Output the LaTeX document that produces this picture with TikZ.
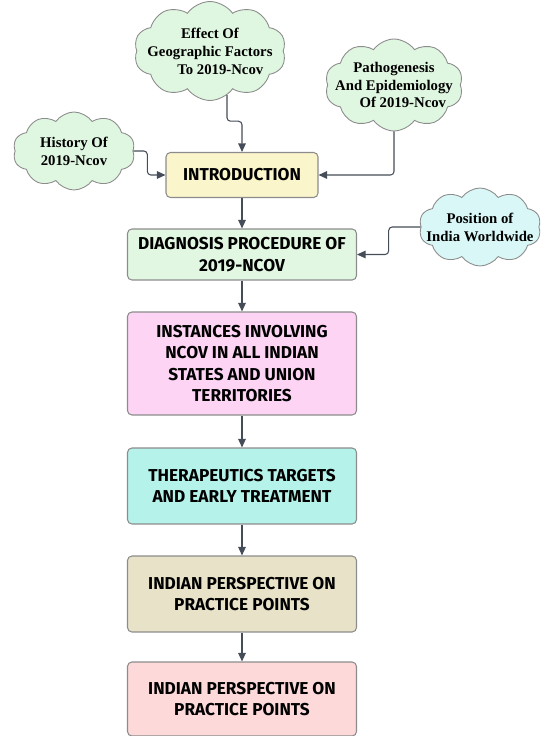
\documentclass[tikz,border=0pt]{standalone}
\usepackage{fontspec}
\setmainfont{Liberation Serif}
\newfontfamily\boxfont{Fira Sans}
\usetikzlibrary{shapes.symbols,arrows.meta}

\definecolor{cloudgreen}{HTML}{DFF6E0}
\definecolor{cloudcyan}{HTML}{D8F7F6}
\definecolor{introfill}{HTML}{FAF5CB}
\definecolor{diagfill}{HTML}{E2F7E2}
\definecolor{instfill}{HTML}{FDD4F4}
\definecolor{therfill}{HTML}{B5F2EA}
\definecolor{persfill}{HTML}{E8E2C8}
\definecolor{pointfill}{HTML}{FDD9DA}
\definecolor{edgegrey}{HTML}{8C8C8C}
\definecolor{linkgrey}{HTML}{454D58}

\tikzset{
  bubble/.style={cloud, cloud puffs=10, cloud puff arc=110, cloud ignores aspect,
    draw=edgegrey, line width=0.5pt, inner sep=0pt},
  bubbletext/.style={align=center, inner sep=0pt, font=\fontsize{8.4}{10.2}\selectfont\bfseries},
  topic/.style={draw=edgegrey, rounded corners=2.5pt, line width=0.6pt, minimum width=4.58cm,
    align=center, font=\boxfont\fontsize{9.8}{12.3}\selectfont\bfseries},
  link/.style={draw=linkgrey, line width=0.6pt, rounded corners=2pt,
    -{Triangle[length=1.7mm,width=1.5mm]}}
}

\begin{document}
\begin{tikzpicture}[x=0.02cm,y=-0.02cm]
    \useasboundingbox (0,0) rectangle (541,736);

    % Draw the clouds around the introduction
    \node[bubble, fill=cloudgreen, minimum width=3.04cm, minimum height=1.98cm] (effect) at (210,51) {};
    \node[bubbletext] (effecttext) at (effect) {Effect Of\\Geographic Factors\\\hspace*{1.4em}To 2019-Ncov};
    \node[bubble, fill=cloudgreen, minimum width=2.76cm, minimum height=1.84cm] (patho) at (394,85) {};
    \node[bubbletext] (pathotext) at (patho) {Pathogenesis\\And Epidemiology\\\hspace*{1.2em}Of 2019-Ncov};
    \node[bubble, fill=cloudgreen, minimum width=2.44cm, minimum height=1.56cm] (history) at (74,151) {};
    \node[bubbletext] (historytext) at (history) {History Of\\2019-Ncov};
    \node[bubble, fill=cloudcyan, minimum width=2.44cm, minimum height=1.56cm] (position) at (480,227) {};
    \node[bubbletext] (positiontext) at (position) {Position of\\India Worldwide};

    % Draw the chain of boxes
    \node[topic, fill=introfill, minimum width=3.04cm, minimum height=0.9cm] (intro) at (242,175) {INTRODUCTION};
    \node[topic, fill=diagfill, minimum height=1.02cm] (diag) at (242,254.5)
        {DIAGNOSIS PROCEDURE OF\\2019-NCOV};
    \node[topic, fill=instfill, minimum height=2.06cm] (inst) at (242,363.5)
        {INSTANCES INVOLVING\\NCOV IN ALL INDIAN\\STATES AND UNION\\TERRITORIES};
    \node[topic, fill=therfill, minimum height=1.52cm] (ther) at (242,486)
        {THERAPEUTICS TARGETS\\AND EARLY TREATMENT};
    \node[topic, fill=persfill, minimum height=1.52cm] (pers) at (242,594)
        {INDIAN PERSPECTIVE ON\\PRACTICE POINTS};
    \node[topic, fill=pointfill, minimum height=1.48cm] (point) at (242,699)
        {INDIAN PERSPECTIVE ON\\PRACTICE POINTS};

    % Connect the clouds
    \draw[link] (effect.-69) -- ++(0,26) -| (intro.north);
    \draw[link] (patho.south) |- (intro.east);
    \draw[link] (history.east) -- ++(14,0) |- (intro.west);
    \draw[link] (position.west) -- ++(-32,0) |- (diag.east);

    % Connect the boxes
    \foreach \a/\b in {intro/diag, diag/inst, inst/ther, ther/pers, pers/point} {
        \draw[link] (\a.south) -- (\b.north);
    }
\end{tikzpicture}
\end{document}
